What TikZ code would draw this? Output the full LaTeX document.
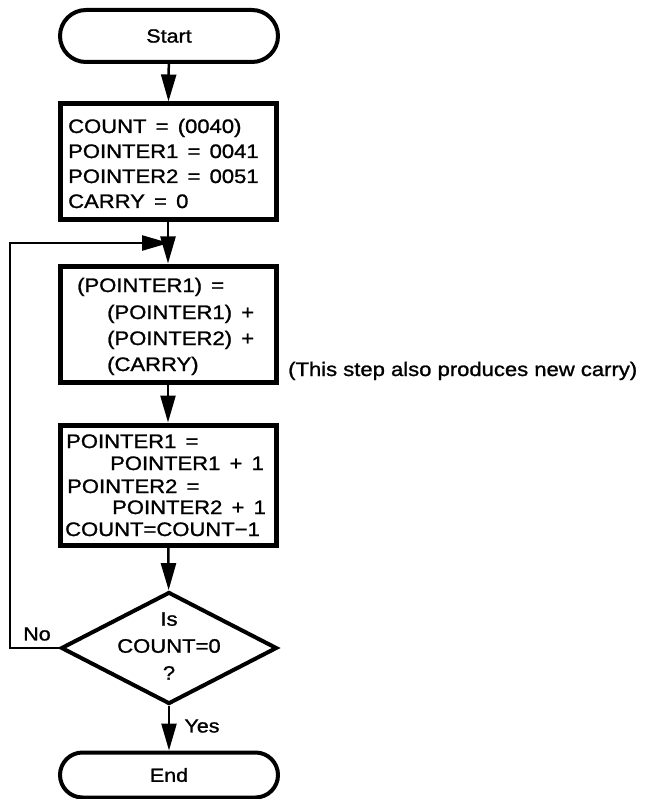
\documentclass[tikz,border=0pt]{standalone}
\usepackage{fontspec}
\setmainfont{Liberation Sans}[FakeStretch=1.13,FakeBold=1.2,WordSpace=1.5]
\newfontfamily\notefont{Liberation Sans}[FakeStretch=1.13,FakeBold=1.2]
\usetikzlibrary{shapes.misc,shapes.geometric,arrows.meta}
\begin{document}
\begin{tikzpicture}[x=1pt,y=-1pt,
  term/.style={draw,line width=4pt,rounded rectangle,minimum width=218pt,inner sep=0pt,font=\fontsize{19}{22}\selectfont},
  procbox/.style={draw,line width=5pt,rectangle,inner sep=0pt},
  decide/.style={draw,line width=4pt,diamond,minimum width=216pt,minimum height=112pt,inner sep=0pt},
  dtext/.style={inner sep=0pt,align=center,font=\fontsize{19.5}{27}\selectfont},
  txt/.style={anchor=base west,inner sep=0pt,font=\fontsize{19.5}{24}\selectfont},
  lbl/.style={inner sep=0pt,font=\fontsize{19}{22}\selectfont},
  flow/.style={line width=2.5pt,-{Triangle[length=27pt,width=15pt]}}]
\useasboundingbox (0,0) rectangle (647,799);
% shapes
\node[term,minimum height=52pt] (start) at (169,36) {Start};
\node[procbox,minimum width=216pt,minimum height=116pt] (box1) at (168,162) {};
\node[procbox,minimum width=216pt,minimum height=116pt] (box2) at (168,324) {};
\node[procbox,minimum width=216pt,minimum height=120pt] (box3) at (168,485) {};
\node[decide] (dia) at (169,648) {};
\node[dtext] (dq) at (169,646) {Is\\COUNT=0\\?};
\node[term,minimum height=45pt] (end) at (169,775) {End};
% box texts
\node[txt] (t11) at (68,133) {COUNT = (0040)};
\node[txt] (t12) at (68,158) {POINTER1 = 0041};
\node[txt] (t13) at (68,183) {POINTER2 = 0051};
\node[txt] (t14) at (68,208) {CARRY = 0};
\node[txt] (t21) at (77,292) {(POINTER1) =};
\node[txt] (t22) at (107,319) {(POINTER1) +};
\node[txt] (t23) at (107,345) {(POINTER2) +};
\node[txt] (t24) at (107,371) {(CARRY)};
\node[txt] (t31) at (66,448) {POINTER1 =};
\node[txt] (t32) at (110,470) {POINTER1 + 1};
\node[txt] (t33) at (67,493) {POINTER2 =};
\node[txt] (t34) at (112,514) {POINTER2 + 1};
\node[txt] (t35) at (65,536) {COUNT=COUNT−1};
% annotation and labels
\node[lbl,anchor=base west,font=\notefont\fontsize{19.5}{22}\selectfont] (note) at (288,376) {(This step also produces new carry)};
\node[lbl] (no) at (37,634) {No};
\node[lbl] (yes) at (202,726) {Yes};
% connectors
\coordinate (merge) at (169,243);
\draw[flow] (start) -- (box1);
\draw[flow] (box1) -- (box2);
\draw[flow] (box2) -- (box3);
\draw[flow] (box3) -- (dia);
\draw[flow] (dia) -- (end);
\draw[flow] (dia.west) -- ++(-49,0) |- (merge);
\end{tikzpicture}
\end{document}
